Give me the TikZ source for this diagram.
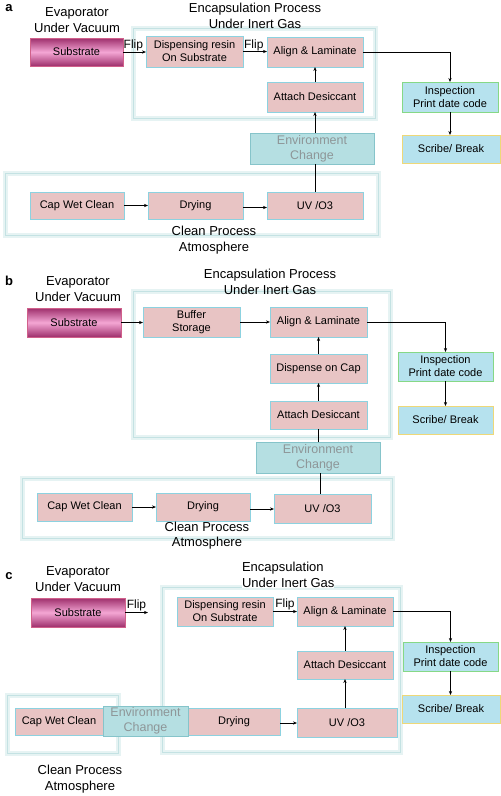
\documentclass[tikz,border=0pt]{standalone}
\usepackage{fontspec}
\setmainfont{Liberation Sans}
\usetikzlibrary{arrows.meta,calc}
\definecolor{pinkfill}{HTML}{E8C4C4}
\definecolor{pinkedge}{HTML}{8CD2E0}
\definecolor{magdark}{HTML}{9E2F6C}
\definecolor{maglight}{HTML}{F4A6D4}
\definecolor{magedge}{HTML}{D0608A}
\definecolor{envfill}{HTML}{B5DFE2}
\definecolor{envedge}{HTML}{86C4CA}
\definecolor{envtext}{HTML}{8E9698}
\definecolor{waterfill}{HTML}{B6E2EE}
\definecolor{greenedge}{HTML}{86D886}
\definecolor{yellowedge}{HTML}{EED878}
\definecolor{outerglow}{HTML}{E6F3F3}
\definecolor{outeredge}{HTML}{C4E2E3}
\begin{document}
\begin{tikzpicture}[x=1pt,y=-1pt,
  every node/.style={font=\fontsize{11}{13}\selectfont, inner sep=0pt, outer sep=0pt, align=center},
  pinkbox/.style={rectangle, fill=pinkfill, draw=pinkedge, line width=0.8pt},
  subbox/.style={rectangle, top color=magdark, bottom color=magdark, middle color=maglight, draw=magedge, line width=0.8pt},
  envbox/.style={rectangle, fill=envfill, draw=envedge, line width=0.8pt, text=envtext, font=\fontsize{12.5}{15}\selectfont},
  inspbox/.style={rectangle, fill=waterfill, draw=greenedge, line width=0.8pt},
  scribox/.style={rectangle, fill=waterfill, draw=yellowedge, line width=0.8pt},
  outer/.style={draw=outeredge, line width=0.7pt, preaction={draw=outerglow, line width=5pt}},
  lbl/.style={font=\fontsize{13}{15.5}\selectfont},
  flip/.style={font=\fontsize{12}{14}\selectfont},
  panel/.style={font=\fontsize{13}{15}\selectfont\bfseries},
  conn/.style={line width=0.9pt, -{Stealth[length=4pt,width=3.2pt]}},
  line/.style={line width=0.9pt}
]
\path[use as bounding box, fill=white] (0,0) rectangle (501,796);

% ================= Panel a =================
\node[panel] (pa) at (9,8) {a};
\draw[outer] (133,28) rectangle (375,118);
\draw[outer] (5,173) rectangle (378,235);
\node[lbl] (evapA) at (77,20) {Evaporator\\Under Vacuum};
\node[lbl] (encA) at (255,16) {Encapsulation Process\\Under Inert Gas};
\node[subbox, minimum width=93pt, minimum height=28pt] (subA) at (76.5,52) {Substrate};
\node[pinkbox, minimum width=97pt, minimum height=31pt] (dispA) at (194.5,51.5) {Dispensing resin\\On Substrate};
\node[pinkbox, minimum width=96pt, minimum height=30pt] (alignA) at (315,52) {Align \& Laminate};
\node[pinkbox, minimum width=96pt, minimum height=30pt] (attA) at (315,97) {Attach Desiccant};
\node[inspbox, minimum width=96pt, minimum height=30pt] (inspA) at (450,97) {Inspection\\Print date code};
\node[scribox, minimum width=98pt, minimum height=28pt] (scrA) at (451,149) {Scribe/ Break};
\node[envbox, minimum width=124pt, minimum height=31pt] (envA) at (312,148.5) {Environment\\Change};
\node[pinkbox, minimum width=94pt, minimum height=27pt] (capA) at (77,205.5) {Cap Wet Clean};
\node[pinkbox, minimum width=95pt, minimum height=27pt] (dryA) at (195.5,205.5) {Drying};
\node[pinkbox, minimum width=96pt, minimum height=27pt] (uvA) at (315,205.5) {UV /O3};
\node[lbl] (cleanA) at (214,240) {Clean Process\\Atmosphere};
\draw[conn] (subA.east) -- node[flip, above=1pt, pos=0.45] (flipA1) {Flip} (dispA.west |- subA.east);
\draw[conn] (dispA.east) -- node[flip, above=1pt, pos=0.45] (flipA2) {Flip} (alignA.west |- dispA.east);
\draw[conn] (attA.north) -- (alignA.south);
\draw[conn] (alignA.east) -| (inspA.north);
\draw[conn] (inspA.south) -- (inspA.south |- scrA.north);
\draw[conn] (capA.east) -- (dryA.west);
\draw[conn] (dryA.east) ++(0,2) -- ($(uvA.west)+(0,2)$);
\draw[line] (uvA.north) -- (uvA.north |- envA.south);
\draw[conn] (attA.south |- envA.north) -- (attA.south);

% ================= Panel b =================
\node[panel] (pb) at (9,281) {b};
\draw[outer] (133,291) rectangle (390,437);
\draw[outer] (22,478) rectangle (392,538);
\node[lbl] (evapB) at (78,289) {Evaporator\\Under Vacuum};
\node[lbl] (encB) at (270,282) {Encapsulation Process\\Under Inert Gas};
\node[subbox, minimum width=94pt, minimum height=29pt] (subB) at (74,322.5) {Substrate};
\node[pinkbox, minimum width=97pt, minimum height=30pt] (bufB) at (191.5,322) {Buffer\\Storage};
\node[pinkbox, minimum width=97pt, minimum height=30pt] (alignB) at (318.5,322) {Align \& Laminate};
\node[pinkbox, minimum width=97pt, minimum height=29pt] (dispB) at (318.5,368.5) {Dispense on Cap};
\node[pinkbox, minimum width=97pt, minimum height=28pt] (attB) at (318.5,415) {Attach Desiccant};
\node[inspbox, minimum width=95pt, minimum height=29pt] (inspB) at (445.5,366.5) {Inspection\\Print date code};
\node[scribox, minimum width=95pt, minimum height=28pt] (scrB) at (445.5,420) {Scribe/ Break};
\node[envbox, minimum width=124pt, minimum height=31pt] (envB) at (318,457.5) {Environment\\Change};
\node[pinkbox, minimum width=95pt, minimum height=28pt] (capB) at (84.5,507) {Cap Wet Clean};
\node[pinkbox, minimum width=94pt, minimum height=28pt] (dryB) at (203,507) {Drying};
\node[pinkbox, minimum width=97pt, minimum height=29pt] (uvB) at (322.5,508.5) {UV /O3};
\node[lbl] (cleanB) at (207,535.5) {Clean Process\\Atmosphere};
\draw[conn] (subB.east) -- (bufB.west |- subB.east);
\draw[conn] (bufB.east) -- (alignB.west);
\draw[conn] (dispB.north) -- (alignB.south);
\draw[conn] (attB.north) -- (dispB.south);
\draw[conn] (alignB.east) -| (inspB.north);
\draw[conn] (inspB.south) -- (scrB.north);
\draw[conn] (capB.east) -- (dryB.west);
\draw[conn] (dryB.east) ++(0,2) -- ($(uvB.west)+(0,0.5)$);
\draw[line] ($(uvB.north)+(-2,0)$) -- ($(uvB.north |- envB.south)+(-2,0)$);
\draw[line] (attB.south |- envB.north) -- (attB.south);

% ================= Panel c =================
\node[panel] (pc) at (9,576) {c};
\draw[outer] (162,587) rectangle (400,752);
\draw[outer] (7,695) rectangle (118,753);
\node[lbl] (evapC) at (78,579) {Evaporator\\Under Vacuum};
\node[lbl, align=left, anchor=west, fill=white] (encC) at (242,575) {Encapsulation\\Under Inert Gas};
\node[subbox, minimum width=94pt, minimum height=29pt] (subC) at (78,612.5) {Substrate};
\coordinate (flipEnd) at (148,612.5);
\node[pinkbox, minimum width=96pt, minimum height=29pt] (dispC) at (225,611.5) {Dispensing resin\\On Substrate};
\node[pinkbox, minimum width=96pt, minimum height=29pt] (alignC) at (345,611.5) {Align \& Laminate};
\node[pinkbox, minimum width=96pt, minimum height=28pt] (attC) at (345,665) {Attach Desiccant};
\node[pinkbox, minimum width=100pt, minimum height=29pt] (uvC) at (347,722.5) {UV /O3};
\node[pinkbox, minimum width=92pt, minimum height=27pt] (dryC) at (234,721.5) {Drying};
\node[pinkbox, minimum width=88pt, minimum height=27pt] (capC) at (59,721.5) {Cap Wet Clean};
\node[envbox, minimum width=85pt, minimum height=30pt] (envC) at (145.5,721) {Environment\\Change};
\node[inspbox, minimum width=95pt, minimum height=29pt] (inspC) at (450.5,656.5) {Inspection\\Print date code};
\node[scribox, minimum width=98pt, minimum height=28pt] (scrC) at (451,709) {Scribe/ Break};
\node[lbl] (cleanC) at (80,779) {Clean Process\\Atmosphere};
\draw[conn] (subC.east) -- node[flip, above=2pt, pos=0.5] (flipC1) {Flip} (flipEnd);
\draw[conn] (dispC.east) -- node[flip, above=2pt, pos=0.5] (flipC2) {Flip} (alignC.west);
\draw[conn] (attC.north) -- (alignC.south);
\draw[conn] (uvC.north -| attC.south) -- (attC.south);
\draw[conn] (alignC.east) -| (inspC.north);
\draw[conn] (inspC.south) -- (inspC.south |- scrC.north);
\draw[conn] (dryC.east) ++(0,1.5) -- ($(uvC.west)+(0,0.5)$);
\end{tikzpicture}
\end{document}
